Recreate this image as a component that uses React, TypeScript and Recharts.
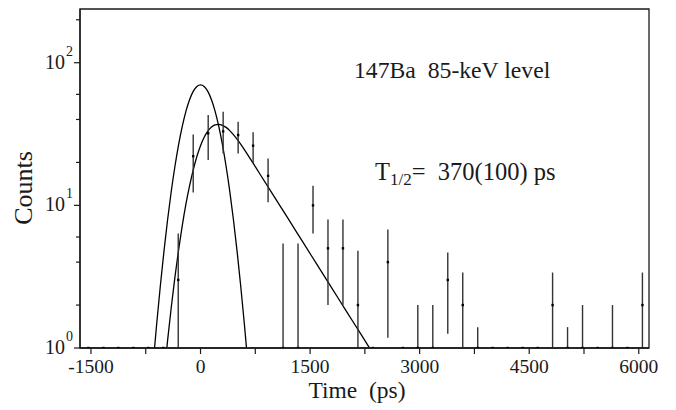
import React from "react";
import { ComposedChart, Line, Scatter, XAxis, YAxis, ErrorBar, ReferenceArea } from "recharts";

// measured spectrum: bin centre (ps), counts, lower / upper end of the error bar
const binTimes = [
  -1535, -1330, -1125, -920, -715, -510, -305, -100, 105, 310, 515, 720, 925,
  1130, 1335, 1540, 1745, 1950, 2155, 2360, 2565, 2770, 2975, 3180, 3385, 3590,
  3795, 4000, 4205, 4410, 4615, 4820, 5025, 5230, 5435, 5640, 5845, 6050,
];
const counts = [
  1, 1, 1, 1, 1, 1, 3, 22.1, 32, 33, 31.1, 26.2, 16.1,
  1, 1, 10, 5, 5, 2, 1, 4, 1, 1, 1, 3, 2,
  1, 1, 1, 1, 1, 2, 1, 1, 1, 1, 1, 2,
];
const countsLow = [
  1, 1, 1, 1, 1, 1, 1, 12.3, 20.8, 23.1, 23.1, 19.7, 10.5,
  1, 1, 6.35, 2, 2, 1, 1, 1.18, 1, 1, 1, 1.26, 1,
  1, 1, 1, 1, 1, 1, 1, 1, 1, 1, 1, 1,
];
const countsHigh = [
  1, 1, 1, 1, 1, 1, 6.35, 31.4, 43, 45.3, 38.5, 32.5, 21.3,
  5.4, 5.4, 13.7, 7.96, 7.96, 4.8, 1, 6.78, 1, 2, 2, 4.67, 3.38,
  1.4, 1, 1, 1, 1, 3.38, 1.4, 2, 1, 2, 1, 3.38,
];

// prompt response curve
const promptTimes = [
  -650, -600, -550, -500, -450, -400, -350, -300, -250, -200, -150, -100, -50, 0,
  50, 100, 150, 200, 250, 300, 350, 400, 450, 500, 550, 600, 650,
];
const promptCurve = [
  0.76, 1.48, 2.73, 4.8, 7.99, 12.6, 18.8, 26.7, 35.8, 45.6, 55, 62.9, 68.15, 70,
  68.15, 62.9, 55, 45.6, 35.8, 26.7, 18.8, 12.6, 7.99, 4.8, 2.73, 1.48, 0.76,
];

// delayed curve (fit)
const delayTimes = [
  -500, -450, -400, -350, -300, -250, -200, -150, -100, -50, 0, 50, 100, 150, 200,
  250, 300, 350, 400, 450, 500, 600, 700, 800, 1000, 1200, 1400, 1600, 1800, 2000,
  2200, 2400,
];
const delayCurve = [
  0.64, 1.14, 1.94, 3.15, 4.88, 7.21, 10.2, 13.7, 17.7, 22, 26.2, 30, 33.1, 35.4, 36.7,
  37, 36.4, 35.2, 33.4, 31.3, 29.1, 24.6, 20.5, 17, 11.7, 8.06, 5.54, 3.81, 2.62, 1.8,
  1.24, 0.85,
];

const xTicks = [-1500, -750, 0, 750, 1500, 2250, 3000, 3750, 4500, 5250, 6000];
const yTicks = [
  1, 2, 3, 4, 5, 6, 7, 8, 9, 10, 20, 30, 40, 50, 60, 70, 80, 90, 100, 200,
];

const FONT = "'Liberation Serif', 'Times New Roman', serif";
const INK = "#1a1a1a";

const spectrum = binTimes.map((t, i) => ({
  t,
  v: counts[i],
  err: [counts[i] - countsLow[i], countsHigh[i] - counts[i]],
}));
const prompt = promptTimes.map((t, i) => ({ t, v: promptCurve[i] }));
const delayed = delayTimes.map((t, i) => ({ t, v: delayCurve[i] }));

const XTick = (props: any) => {
  const { x, y, payload } = props;
  const v = payload.value;
  return (
    <g>
      <line x1={x} y1={y} x2={x} y2={y + 6} stroke={INK} strokeWidth={1.2} />
      {v % 1500 === 0 && (
        <text x={x} y={y + 25} textAnchor="middle" fontFamily={FONT} fontSize={19.5} fill={INK}>
          {v}
        </text>
      )}
    </g>
  );
};

const YTick = (props: any) => {
  const { x, y, payload } = props;
  const e = Math.log10(payload.value);
  const major = Math.abs(e - Math.round(e)) < 1e-6;
  const len = major ? 6 : 4;
  return (
    <g>
      <line x1={x - len} y1={y} x2={x} y2={y} stroke={INK} strokeWidth={1.2} />
      {major && (
        <text x={x - 7} y={y + 6} textAnchor="end" fontFamily={FONT} fontSize={20} fill={INK}>
          10
          <tspan dx={1} dy={-13} fontSize={14}>
            {Math.round(e)}
          </tspan>
        </text>
      )}
    </g>
  );
};

const Dot = (props: any) => {
  const { cx, cy } = props;
  return <rect x={cx - 1.2} y={cy - 1.2} width={2.4} height={2.4} fill="#000" />;
};

export default function App() {
  return (
    <div style={{ position: "absolute", left: 0, top: 0, width: 676, height: 410, background: "#fff" }}>
      <ComposedChart width={676} height={410} margin={{ top: 9, right: 27, bottom: 0, left: 0 }}>
        <XAxis
          dataKey="t"
          type="number"
          domain={[-1650, 6140]}
          allowDataOverflow
          ticks={xTicks}
          tick={<XTick />}
          tickLine={false}
          tickSize={0}
          tickMargin={0}
          height={62}
          stroke={INK}
          strokeWidth={1.3}
        />
        <YAxis
          dataKey="v"
          type="number"
          scale="log"
          domain={[1, 238]}
          allowDataOverflow
          ticks={yTicks}
          tick={<YTick />}
          tickLine={false}
          tickSize={0}
          tickMargin={0}
          width={80}
          stroke={INK}
          strokeWidth={1.3}
        />
        <ReferenceArea
          x1={-1650}
          x2={6140}
          y1={1}
          y2={238}
          fill="none"
          stroke={INK}
          strokeWidth={1.3}
          ifOverflow="visible"
        />
        <Line
          data={prompt}
          dataKey="v"
          type="monotone"
          stroke="#000"
          strokeWidth={1.3}
          dot={false}
          isAnimationActive={false}
        />
        <Line
          data={delayed}
          dataKey="v"
          type="monotone"
          stroke="#000"
          strokeWidth={1.3}
          dot={false}
          isAnimationActive={false}
        />
        <Scatter data={spectrum} dataKey="v" shape={<Dot />} isAnimationActive={false}>
          <ErrorBar dataKey="err" direction="y" width={0} stroke="#333" strokeWidth={1.4} />
        </Scatter>
      </ComposedChart>
      <svg
        width={676}
        height={410}
        style={{ position: "absolute", left: 0, top: 0, pointerEvents: "none" }}
        fontFamily={FONT}
        fill={INK}
      >
        <text transform="translate(32,188) rotate(-90)" textAnchor="middle" fontSize={26}>
          Counts
        </text>
        <text x={357} y={398} textAnchor="middle" fontSize={23.5} style={{ whiteSpace: "pre" }}>
          {"Time  (ps)"}
        </text>
        <text x={354} y={78} fontSize={23.7} style={{ whiteSpace: "pre" }}>
          {"147Ba  85-keV level"}
        </text>
        <text x={375} y={180} fontSize={24.5} style={{ whiteSpace: "pre" }}>
          T
          <tspan fontSize={17} dy={5}>
            1/2
          </tspan>
          <tspan dy={-5}>{"=  370(100) ps"}</tspan>
        </text>
      </svg>
    </div>
  );
}
